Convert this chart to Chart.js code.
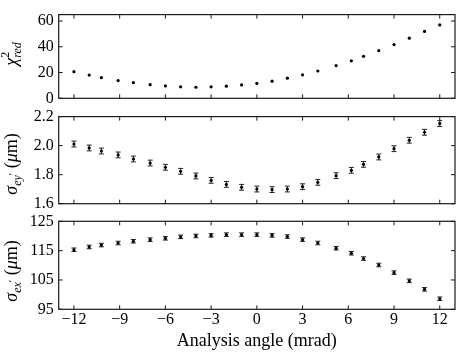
<!DOCTYPE html>
<html><head><meta charset="utf-8">
<script src="https://cdn.jsdelivr.net/npm/chart.js@4.4.1/dist/chart.umd.min.js"></script>
<style>
html,body{margin:0;padding:0;background:#fff;}
#wrap{position:relative;width:469px;height:352px;background:#fff;}
canvas{position:absolute;left:0;top:0;}
</style></head><body>
<div id="wrap">
<canvas id="c1" width="469" height="352"></canvas>
<canvas id="c2" width="469" height="352"></canvas>
<canvas id="c3" width="469" height="352"></canvas>
</div>
<script>
// ---- data ----
const angles = [-12, -11, -10.2, -9.1, -8.1, -7, -6, -5, -4, -3, -2, -1, 0, 1, 2, 3, 4, 5.2, 6.2, 7, 8, 9, 10, 11, 12];
const chi2Red = [20.7, 18.0, 16.0, 13.8, 12.1, 10.6, 9.6, 8.9, 8.6, 8.9, 9.4, 10.4, 11.6, 13.3, 15.6, 18.2, 21.2, 25.4, 29.1, 32.6, 37.0, 41.7, 46.7, 51.9, 57.0];
const sigmaEy = [2.011, 1.984, 1.963, 1.936, 1.908, 1.880, 1.851, 1.823, 1.791, 1.761, 1.733, 1.713, 1.701, 1.697, 1.701, 1.717, 1.747, 1.793, 1.830, 1.871, 1.922, 1.979, 2.037, 2.092, 2.152];
const sigmaEyErr = [0.02, 0.02, 0.02, 0.02, 0.02, 0.02, 0.02, 0.02, 0.02, 0.02, 0.02, 0.02, 0.02, 0.02, 0.02, 0.02, 0.02, 0.02, 0.02, 0.02, 0.02, 0.02, 0.02, 0.02, 0.02];
const sigmaEx = [115.3, 116.25, 116.9, 117.6, 118.2, 118.75, 119.2, 119.7, 120.0, 120.2, 120.45, 120.45, 120.45, 120.2, 119.8, 118.75, 117.6, 115.8, 114.1, 112.3, 110.1, 107.5, 104.7, 101.8, 98.6];
const sigmaExErr = [0.6, 0.6, 0.6, 0.6, 0.6, 0.6, 0.6, 0.6, 0.6, 0.6, 0.6, 0.6, 0.6, 0.6, 0.6, 0.6, 0.6, 0.6, 0.6, 0.6, 0.6, 0.6, 0.6, 0.6, 0.6];
const xTicks = [-12, -9, -6, -3, 0, 3, 6, 9, 12];
const chi2Ticks = [0, 20, 40, 60];
const eyTicks = [1.6, 1.8, 2.0, 2.2];
const exTicks = [95, 105, 115, 125];
const xTitle = 'Analysis angle (mrad)';

const FONT = "'Liberation Serif', 'Times New Roman', serif";
const W = 469, H = 352;

function fmtInt(v) { return v < 0 ? '\u2212' + Math.abs(v) : String(v); }
function fmt1(v) { return Number(v).toFixed(1); }

function makePanel(id, p) {
  const errPlugin = {
    id: 'errbars' + id,
    beforeDatasetsDraw(chart) {
      if (!p.errors) return;
      const {ctx} = chart, xs = chart.scales.x, ys = chart.scales.y;
      ctx.save();
      ctx.strokeStyle = '#222'; ctx.lineWidth = 1;
      ctx.beginPath();
      angles.forEach((a, i) => {
        const px = xs.getPixelForValue(a);
        const y1 = ys.getPixelForValue(p.values[i] - p.errors[i]);
        const y2 = ys.getPixelForValue(p.values[i] + p.errors[i]);
        ctx.moveTo(px, y1); ctx.lineTo(px, y2);
        ctx.moveTo(px - 2.5, y1); ctx.lineTo(px + 2.5, y1);
        ctx.moveTo(px - 2.5, y2); ctx.lineTo(px + 2.5, y2);
      });
      ctx.stroke();
      ctx.restore();
    }
  };
  const framePlugin = {
    id: 'frame' + id,
    afterDraw(chart) {
      const {ctx, chartArea: a} = chart, xs = chart.scales.x, ys = chart.scales.y;
      ctx.save();
      ctx.strokeStyle = '#1a1a1a'; ctx.lineWidth = 1;
      ctx.beginPath();
      xs.ticks.forEach(t => {
        const q = xs.getPixelForValue(t.value);
        ctx.moveTo(q, a.bottom); ctx.lineTo(q, a.bottom - 4);
        ctx.moveTo(q, a.top); ctx.lineTo(q, a.top + 4);
      });
      ys.ticks.forEach(t => {
        const q = ys.getPixelForValue(t.value);
        ctx.moveTo(a.left, q); ctx.lineTo(a.left + 4, q);
        ctx.moveTo(a.right, q); ctx.lineTo(a.right - 4, q);
      });
      ctx.stroke();
      ctx.lineWidth = 1.2;
      ctx.strokeRect(a.left, a.top, a.right - a.left, a.bottom - a.top);
      ctx.restore();
    }
  };
  const labelPlugin = {
    id: 'ylabel' + id,
    afterDraw(chart) {
      const {ctx} = chart;
      ctx.save();
      ctx.fillStyle = '#000';
      ctx.textBaseline = 'alphabetic';
      ctx.textAlign = 'left';
      // measure
      let total = 0;
      const segs = p.label.map(s => {
        ctx.font = s.f;
        const w = ctx.measureText(s.t).width;
        const r = Object.assign({w}, s);
        return r;
      });
      let x = 0; const pos = [];
      let groupW = 0;
      segs.forEach(s => {
        pos.push(x);
        if (s.stack) { groupW = Math.max(groupW, s.w); }
        else { x += Math.max(s.w, 0); }
        if (s.endStack) { x += groupW; groupW = 0; }
      });
      total = x;
      ctx.translate(p.labelCenter[0], p.labelCenter[1]);
      ctx.rotate(-Math.PI / 2);
      segs.forEach((s, i) => {
        ctx.font = s.f;
        ctx.fillText(s.t, pos[i] - total / 2, s.dy || 0);
      });
      ctx.restore();
    }
  };
  const ds = angles.map((a, i) => ({x: a, y: p.values[i]}));
  return new Chart(document.getElementById(id), {
    type: 'scatter',
    data: { datasets: [{ data: ds, pointRadius: 1.6, pointBackgroundColor: '#000', pointBorderWidth: 0, borderColor: '#000', showLine: false }] },
    options: {
      responsive: false, animation: false, events: [],
      layout: { padding: { left: 0, right: 14, top: p.top, bottom: p.isBottom ? 0 : H - p.bottom } },
      plugins: { legend: { display: false }, tooltip: { enabled: false } },
      scales: {
        x: {
          type: 'linear', min: -13, max: 13,
          afterBuildTicks: s => { s.ticks = xTicks.map(v => ({value: v})); },
          grid: { display: false, drawTicks: false }, border: { display: false },
          ticks: { display: p.isBottom, font: { family: FONT, size: 16 }, color: '#000', padding: 1, maxRotation: 0, autoSkip: false, callback: v => fmtInt(v) },
          title: { display: p.isBottom, text: xTitle, font: { family: FONT, size: 18 }, color: '#000', padding: 0 },
          afterFit: s => { s.height = p.isBottom ? H - p.bottom : 0; }
        },
        y: {
          min: p.yMin, max: p.yMax,
          afterBuildTicks: s => { s.ticks = p.yTicks.map(v => ({value: v})); },
          grid: { display: false, drawTicks: false }, border: { display: false },
          ticks: { font: { family: FONT, size: 16 }, color: '#000', padding: 5, autoSkip: false, callback: p.yFmt },
          afterFit: s => { s.width = 58.7; }
        }
      }
    },
    plugins: [errPlugin, framePlugin, labelPlugin]
  });
}

const IT18 = 'italic 18px ' + FONT, IT12 = 'italic 12px ' + FONT, RM18 = '18px ' + FONT, RM12 = '12px ' + FONT, RM11 = '11px ' + FONT;

makePanel('c1', {
  values: chi2Red, errors: null, yMin: 0, yMax: 65, yTicks: chi2Ticks, yFmt: v => fmtInt(v),
  top: 10.7, bottom: 98.3, isBottom: false, labelCenter: [16.5, 54],
  label: [
    {t: '\u03C7', f: IT18},
    {t: '2', f: RM12, dy: -8, stack: true},
    {t: 'red', f: IT12, dy: 4, stack: true, endStack: true}
  ]
});
makePanel('c2', {
  values: sigmaEy, errors: sigmaEyErr, yMin: 1.6, yMax: 2.2, yTicks: eyTicks, yFmt: v => fmt1(v),
  top: 116.6, bottom: 203.7, isBottom: false, labelCenter: [16.5, 164],
  label: [
    {t: '\u03C3', f: IT18},
    {t: 'ey', f: IT12, dy: 4},
    {t: '\u2032', f: RM11, dy: -1},
    {t: ' (', f: RM18},
    {t: '\u03BC', f: IT18},
    {t: 'm)', f: RM18}
  ]
});
makePanel('c3', {
  values: sigmaEx, errors: sigmaExErr, yMin: 95, yMax: 125, yTicks: exTicks, yFmt: v => fmtInt(v),
  top: 221.3, bottom: 309.3, isBottom: true, labelCenter: [16.5, 271],
  label: [
    {t: '\u03C3', f: IT18},
    {t: 'ex', f: IT12, dy: 4},
    {t: '\u2032', f: RM11, dy: -1},
    {t: ' (', f: RM18},
    {t: '\u03BC', f: IT18},
    {t: 'm)', f: RM18}
  ]
});
</script>
</body></html>
